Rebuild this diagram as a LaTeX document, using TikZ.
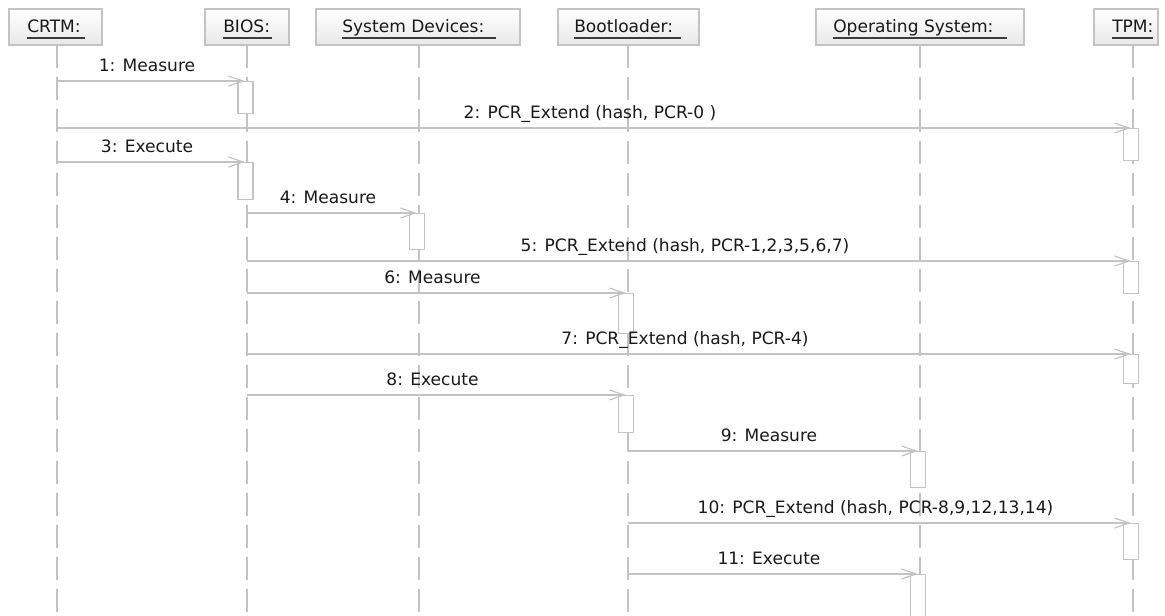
\documentclass[tikz,border=0pt]{standalone}
\usepackage{fontspec}
\setmainfont{DejaVu Sans}
\usetikzlibrary{arrows.meta,calc}
\definecolor{ln}{RGB}{195,195,195}
\definecolor{tx}{RGB}{25,25,25}
\begin{document}
\begin{tikzpicture}[x=0.75pt,y=-0.75pt,
  hdr/.style={draw=ln, line width=0.9pt, top color=white, bottom color=black!9, inner sep=0pt, minimum height=27pt},
  hdrtext/.style={text=tx, font=\fontsize{12.8pt}{15pt}\selectfont, inner sep=0pt, anchor=base west},
  uline/.style={draw=tx!85, line width=1.1pt},
  life/.style={draw=ln, line width=0.9pt, dash pattern=on 17.25pt off 6.75pt},
  msg/.style={draw=ln, line width=0.9pt, shorten >=1.5pt, -{Straight Barb[length=11pt,width=7.5pt,line width=0.9pt]}},
  lbl/.style={text=tx, font=\fontsize{12.8pt}{15pt}\selectfont, inner sep=0pt, anchor=base, xshift=-3.75pt, yshift=7.5pt},
  act/.style={draw=ln, fill=white, line width=0.9pt, inner sep=0pt, minimum width=11.25pt, anchor=north}
]
\useasboundingbox (0,0) rectangle (1165,615);

% lifeline coordinates
\coordinate (L1) at (57,45);
\coordinate (L2) at (247,45);
\coordinate (L3) at (419,45);
\coordinate (L4) at (628,45);
\coordinate (L5) at (920,45);
\coordinate (L6) at (1133,45);
\coordinate (B1) at (57,615);
\coordinate (B2) at (247,615);
\coordinate (B3) at (419,615);
\coordinate (B4) at (628,615);
\coordinate (B5) at (920,615);
\coordinate (B6) at (1133,615);

% header boxes
\node[hdr, minimum width=69.75pt] (crtm) at (55.5,27) {};
\node[hdr, minimum width=63pt] (bios) at (247,27) {};
\node[hdr, minimum width=153pt] (sysdev) at (418,27) {};
\node[hdr, minimum width=105.75pt] (boot) at (628.5,27) {};
\node[hdr, minimum width=156pt] (os) at (920,27) {};
\node[hdr, minimum width=48pt] (tpm) at (1126,27) {};

\node[hdrtext] (crtmt) at (27,32) {CRTM:};
\node[hdrtext] (biost) at (223,32) {BIOS:};
\node[hdrtext] (sysdevt) at (342,32) {System Devices:};
\node[hdrtext] (boott) at (574,32) {Bootloader:};
\node[hdrtext] (ost) at (833,32) {Operating System:};
\node[hdrtext] (tpmt) at (1112,32) {TPM:};

\draw[uline] (27,38) -- (85,38);
\draw[uline] (223,38) -- (272,38);
\draw[uline] (342,38) -- (496,38);
\draw[uline] (574,38) -- (681,38);
\draw[uline] (833,38) -- (1007,38);
\draw[uline] (1112,38) -- (1153,38);

% lifelines
\draw[life] (L1) -- (B1);
\draw[life] (L2) -- (B2);
\draw[life] (L3) -- (B3);
\draw[life] (L4) -- (B4);
\draw[life] (L5) -- (B5);
\draw[life] (L6) -- (B6);

% activation boxes
\node[act, minimum height=24pt] (a1) at (245.5,81) {};
\node[act, minimum height=27.75pt] (a3) at (245.5,162) {};
\node[act, minimum height=27pt] (a4) at (417,213) {};
\node[act, minimum height=30pt] (a6) at (626,293) {};
\node[act, minimum height=27.75pt] (a8) at (626,395) {};
\node[act, minimum height=27pt] (a9) at (918,451) {};
\node[act, minimum height=33pt] (a11) at (918,574) {};
\node[act, minimum height=24pt] (a2) at (1131,128) {};
\node[act, minimum height=24pt] (a5) at (1131,261) {};
\node[act, minimum height=21.75pt] (a7) at (1131,354) {};
\node[act, minimum height=27pt] (a10) at (1131,523) {};

% messages
\draw[msg] (L1 |- 0,81) -- node[lbl] {1: Measure} (L2 |- 0,81);
\draw[msg] (L1 |- 0,128) -- node[lbl] {2: PCR\_Extend (hash, PCR-0 )} (L6 |- 0,128);
\draw[msg] (L1 |- 0,162) -- node[lbl] {3: Execute} (L2 |- 0,162);
\draw[msg] (L2 |- 0,213) -- node[lbl] {4: Measure} (L3 |- 0,213);
\draw[msg] (L2 |- 0,261) -- node[lbl] {5: PCR\_Extend (hash, PCR-1,2,3,5,6,7)} (L6 |- 0,261);
\draw[msg] (L2 |- 0,293) -- node[lbl] {6: Measure} (L4 |- 0,293);
\draw[msg] (L2 |- 0,354) -- node[lbl] {7: PCR\_Extend (hash, PCR-4)} (L6 |- 0,354);
\draw[msg] (L2 |- 0,395) -- node[lbl] {8: Execute} (L4 |- 0,395);
\draw[msg] (L4 |- 0,451) -- node[lbl] {9: Measure} (L5 |- 0,451);
\draw[msg] (L4 |- 0,523) -- node[lbl] {10: PCR\_Extend (hash, PCR-8,9,12,13,14)} (L6 |- 0,523);
\draw[msg] (L4 |- 0,574) -- node[lbl] {11: Execute} (L5 |- 0,574);
\end{tikzpicture}
\end{document}
